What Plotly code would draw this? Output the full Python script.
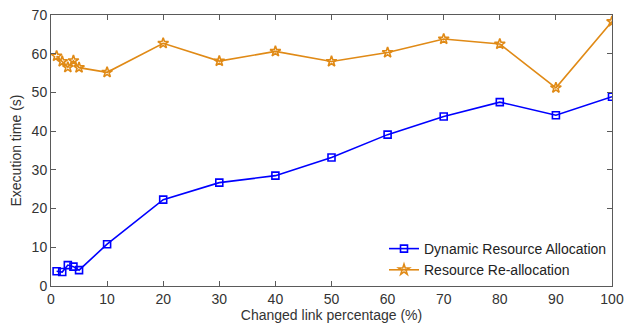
import plotly.graph_objects as go

x_vals = [1, 2, 3, 4, 5, 10, 20, 30, 40, 50, 60, 70, 80, 90, 100]
dynamic = [3.8, 3.6, 5.4, 5.0, 4.1, 10.8, 22.3, 26.7, 28.5, 33.2, 39.1, 43.8, 47.5, 44.1, 48.9]
realloc = [59.4, 58.0, 56.5, 58.2, 56.4, 55.2, 62.7, 58.1, 60.6, 58.0, 60.3, 63.8, 62.5, 51.2, 68.3]
x_ticks = [0, 10, 20, 30, 40, 50, 60, 70, 80, 90, 100]
y_ticks = [0, 10, 20, 30, 40, 50, 60, 70]

fig = go.Figure()
fig.add_trace(go.Scatter(
    x=x_vals, y=dynamic, mode="lines+markers", name="Dynamic Resource Allocation",
    line=dict(color="#0000ff", width=1.6),
    marker=dict(symbol="square-open", size=7, color="#0000ff", line=dict(width=1.6)),
))
fig.add_trace(go.Scatter(
    x=x_vals, y=realloc, mode="lines+markers", name="Resource Re-allocation",
    line=dict(color="#e08a16", width=1.6),
    marker=dict(symbol="star-open", size=8, color="#e08a16", line=dict(width=1.6)),
))

axis_common = dict(
    showline=True, linecolor="#5a5a5a", linewidth=1, mirror="ticks",
    ticks="inside", ticklen=5, tickcolor="#5a5a5a",
    showgrid=False, zeroline=False, automargin=False,
    tickfont=dict(family="Liberation Sans, Arial", size=14, color="#333333"),
)
fig.update_layout(
    width=625, height=327,
    margin=dict(l=51, r=13, t=15, b=41),
    paper_bgcolor="white", plot_bgcolor="white",
    font=dict(family="Liberation Sans, Arial", size=14, color="#333333"),
    xaxis=dict(range=[0, 100], tickvals=x_ticks,
               title=dict(text="Changed link percentage (%)", standoff=2,
                          font=dict(size=14, color="#333333")), **axis_common),
    yaxis=dict(range=[0, 70], tickvals=y_ticks,
               title=dict(text="Execution time (s)", standoff=6,
                          font=dict(size=14, color="#333333")), **axis_common),
    legend=dict(x=1, y=0, xanchor="right", yanchor="bottom",
                bgcolor="white", borderwidth=0,
                font=dict(size=14, color="#222222"),
                itemwidth=30, tracegroupgap=2),
    showlegend=True,
)
fig.write_html("out.html", config={"displayModeBar": False},
               post_script="document.body.style.margin='0';")
